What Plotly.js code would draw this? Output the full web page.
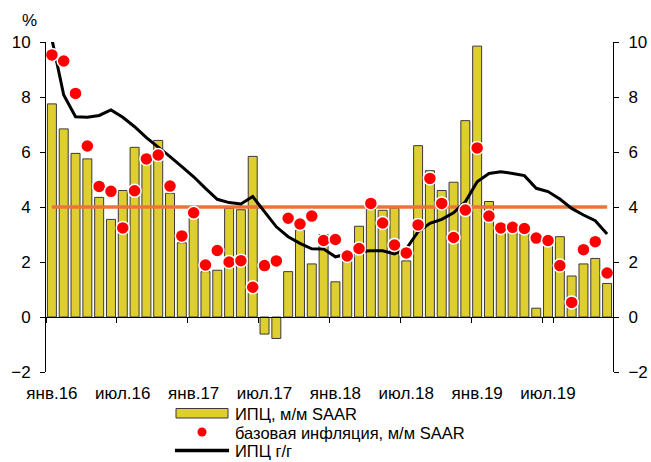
<!DOCTYPE html>
<html>
<head>
<meta charset="utf-8">
<script src="https://cdn.plot.ly/plotly-3.0.1.min.js"></script>
<style>html,body{margin:0;padding:0;background:#fff;}#chart{width:651px;height:462px;}</style>
</head>
<body>
<div id="chart"></div>
<script>
const categories = [
  'янв.16','фев.16','мар.16','апр.16','май.16','июн.16','июл.16','авг.16','сен.16','окт.16','ноя.16','дек.16',
  'янв.17','фев.17','мар.17','апр.17','май.17','июн.17','июл.17','авг.17','сен.17','окт.17','ноя.17','дек.17',
  'янв.18','фев.18','мар.18','апр.18','май.18','июн.18','июл.18','авг.18','сен.18','окт.18','ноя.18','дек.18',
  'янв.19','фев.19','мар.19','апр.19','май.19','июн.19','июл.19','авг.19','сен.19','окт.19','ноя.19','дек.19'
];
const tickLabels = ['янв.16','июл.16','янв.17','июл.17','янв.18','июл.18','янв.19','июл.19'];

// ИПЦ, м/м SAAR (bars)
const cpiMoM = [
  7.75, 6.84, 5.95, 5.75, 4.35, 3.55, 4.60, 6.17, 5.60, 6.42, 4.50, 2.70,
  3.60, 1.65, 1.70, 3.95, 3.90, 5.84, -0.62, -0.78, 1.65, 3.16, 1.93, 3.00,
  1.28, 2.30, 3.30, 3.92, 3.88, 3.96, 2.04, 6.23, 5.32, 4.60, 4.90, 7.14,
  9.85, 4.20, 3.10, 3.10, 3.05, 0.32, 2.65, 2.92, 1.49, 1.93, 2.13, 1.22
];
// базовая инфляция, м/м SAAR (dots)
const coreMoM = [
  9.53, 9.31, 8.13, 6.22, 4.75, 4.57, 3.24, 4.59, 5.75, 5.89, 4.76, 2.95,
  3.79, 1.89, 2.42, 2.00, 2.05, 1.08, 1.87, 2.04, 3.59, 3.38, 3.67, 2.78,
  2.82, 2.22, 2.49, 4.13, 3.42, 2.62, 2.33, 3.35, 5.04, 4.13, 2.89, 3.89,
  6.15, 3.67, 3.24, 3.26, 3.22, 2.87, 2.78, 1.87, 0.53, 2.45, 2.74, 1.60
];
// ИПЦ г/г (line)
const cpiYoY = [
  10.10, 8.07, 7.28, 7.26, 7.33, 7.53, 7.26, 6.92, 6.52, 6.19, 5.83, 5.47,
  5.10, 4.68, 4.28, 4.16, 4.11, 4.38, 3.83, 3.28, 2.92, 2.68, 2.48, 2.47,
  2.19, 2.29, 2.38, 2.41, 2.41, 2.29, 2.48, 3.10, 3.41, 3.55, 3.79, 4.19,
  4.92, 5.22, 5.28, 5.22, 5.14, 4.68, 4.56, 4.29, 3.95, 3.71, 3.50, 3.02
];
// inflation target, %
const target = 4;

const seriesNames = ['ИПЦ, м/м SAAR', 'базовая инфляция, м/м SAAR', 'ИПЦ г/г'];

const FONT = 'Liberation Sans, Arial, sans-serif';
const BAR_COLOR = '#DFCE30';
const BAR_LINE = '#3a3a3a';
const DOT_COLOR = '#FF0000';
const catRange = [-0.5, categories.length - 0.5];

const traces = [
  {
    type: 'bar', name: seriesNames[0], x: categories, y: cpiMoM,
    xaxis: 'x', yaxis: 'y',
    marker: {color: BAR_COLOR, line: {color: BAR_LINE, width: 1}},
    hoverinfo: 'skip'
  },
  {
    type: 'scatter', mode: 'lines', name: 'target', x: categories,
    y: categories.map(() => target),
    xaxis: 'x', yaxis: 'y',
    line: {color: '#E8743B', width: 3.5}, hoverinfo: 'skip'
  },
  {
    type: 'scatter', mode: 'lines', name: seriesNames[2], x: categories, y: cpiYoY,
    xaxis: 'x2', yaxis: 'y2',
    line: {color: '#000000', width: 3}, hoverinfo: 'skip'
  },
  {
    type: 'scatter', mode: 'markers', name: seriesNames[1], x: categories, y: coreMoM,
    xaxis: 'x2', yaxis: 'y2',
    marker: {color: DOT_COLOR, size: 13, line: {color: '#ffffff', width: 1.5}},
    hoverinfo: 'skip'
  }
];

const yCommon = {
  range: [-2, 10], dtick: 2, tick0: 0, ticks: 'outside', ticklen: 5, tickcolor: '#000',
  showline: true, linecolor: '#000', linewidth: 1, showgrid: false, zeroline: false,
  tickfont: {family: FONT, size: 17, color: '#000'}, ticklabelstandoff: 6, fixedrange: true
};

// plot area in pixels: x 46..613, y 42..372
const PL = 46, PW = 567, PB = 372, PH = 330;
const px = v => (v - PL) / PW;
const py = v => (PB - v) / PH;

const legendFont = {family: FONT, size: 16.5, color: '#000'};
const legendText = [
  {text: seriesNames[0], y: 413.5},
  {text: seriesNames[1], y: 432.5},
  {text: seriesNames[2], y: 451}
].map(d => ({
  text: d.text, xref: 'paper', yref: 'paper', x: px(233), y: py(d.y),
  xanchor: 'left', yanchor: 'middle', showarrow: false, font: legendFont
}));

const layout = {
  width: 651, height: 462,
  margin: {l: 46, r: 38, t: 42, b: 90, pad: 0, autoexpand: false},
  paper_bgcolor: '#fff', plot_bgcolor: '#fff',
  font: {family: FONT, size: 17, color: '#000'},
  bargap: 0.24,
  showlegend: false,
  xaxis: {
    type: 'category', range: catRange, anchor: 'free', position: 2 / 12,
    showline: true, linecolor: '#000', linewidth: 1,
    ticks: 'outside', ticklen: 5, tickcolor: '#000', tickson: 'boundaries',
    tickmode: 'array', tickvals: tickLabels, showticklabels: false,
    showgrid: false, zeroline: false, fixedrange: true
  },
  xaxis2: {
    type: 'category', range: catRange, overlaying: 'x', anchor: 'y2', side: 'bottom',
    showline: false, ticks: 'outside', ticklen: 6, tickcolor: 'rgba(0,0,0,0)',
    tickmode: 'array', tickvals: tickLabels, ticktext: tickLabels,
    tickfont: {family: FONT, size: 17, color: '#000'},
    showgrid: false, zeroline: false, fixedrange: true
  },
  yaxis: Object.assign({}, yCommon, {anchor: 'x'}),
  yaxis2: Object.assign({}, yCommon, {overlaying: 'y', side: 'right', anchor: 'x2'}),
  shapes: [
    {type: 'rect', xref: 'paper', yref: 'paper', x0: px(176), x1: px(228), y0: py(418), y1: py(408.5),
     fillcolor: BAR_COLOR, line: {color: BAR_LINE, width: 1}},
    {type: 'circle', xref: 'paper', yref: 'paper', xsizemode: 'pixel', ysizemode: 'pixel',
     xanchor: px(202), yanchor: py(432), x0: -4.5, x1: 4.5, y0: -4.5, y1: 4.5,
     fillcolor: DOT_COLOR, line: {width: 0}},
    {type: 'line', xref: 'paper', yref: 'paper', x0: px(175), x1: px(229), y0: py(450.5), y1: py(450.5),
     line: {color: '#000', width: 3.5}}
  ],
  annotations: [
    {text: '%', xref: 'paper', yref: 'paper', x: px(29), y: py(21), xanchor: 'center', yanchor: 'middle',
     showarrow: false, font: {family: FONT, size: 17, color: '#000'}}
  ].concat(legendText)
};

Plotly.newPlot('chart', traces, layout, {staticPlot: true, displayModeBar: false});
</script>
</body>
</html>
